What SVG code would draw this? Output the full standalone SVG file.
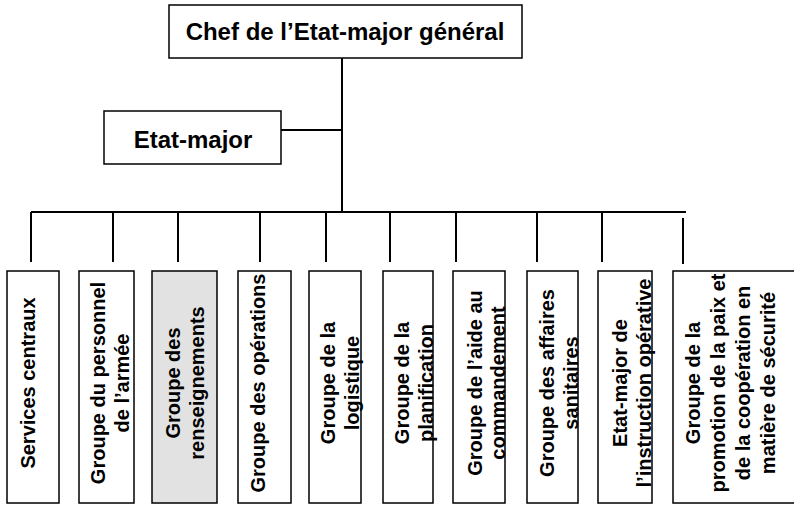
<svg xmlns="http://www.w3.org/2000/svg" width="794" height="505" viewBox="0 0 794 505">
<style>
.box{fill:#fff;stroke:#000;stroke-width:1.5}
.shade{fill:#e2e2e2;stroke:#000;stroke-width:1.5}
.ln{stroke:#000;stroke-width:2;fill:none}
.h{font-family:"Liberation Sans",Arial,sans-serif;font-weight:bold;font-size:24px;text-anchor:middle;fill:#000}
.v{font-family:"Liberation Sans",Arial,sans-serif;font-weight:bold;font-size:20px;text-anchor:middle;fill:#000}
</style>
<rect width="794" height="505" fill="#fff"/>
<g id="connectors">
<path class="ln" d="M342,58 V212 M281,130 H342 M31,212 H686"/>
<path class="ln" d="M31,212 V262 M113,212 V262 M178,212 V262 M260,212 V262 M326,212 V262 M390,212 V262 M456,212 V262 M537,212 V262 M602,212 V262 M683,218 V264"/>
</g>
<g id="chef">
<rect class="box" x="169" y="5" width="353" height="53"/>
<text class="h" x="345" y="40">Chef de l’Etat-major général</text>
</g>
<g id="etat-major">
<rect class="box" x="104" y="111" width="177" height="53"/>
<text class="h" x="193" y="148">Etat-major</text>
</g>
<g id="services-centraux">
<rect class="box" x="7" y="271" width="52" height="232"/>
<text class="v" transform="translate(35,383) rotate(-90)">Services centraux</text>
</g>
<g id="personnel">
<rect class="box" x="79" y="271" width="55" height="232"/>
<text class="v" transform="translate(105,383) rotate(-90)">Groupe du personnel</text>
<text class="v" transform="translate(129,383) rotate(-90)">de l’armée</text>
</g>
<g id="renseignements">
<rect class="shade" x="152" y="271" width="65" height="232"/>
<text class="v" transform="translate(180,383) rotate(-90)">Groupe des</text>
<text class="v" transform="translate(204,383) rotate(-90)">renseignements</text>
</g>
<g id="operations">
<rect class="box" x="238" y="271" width="53" height="232"/>
<text class="v" transform="translate(265,383) rotate(-90)">Groupe des opérations</text>
</g>
<g id="logistique">
<rect class="box" x="309" y="271" width="52" height="232"/>
<text class="v" transform="translate(335,383) rotate(-90)">Groupe de la</text>
<text class="v" transform="translate(359,383) rotate(-90)">logistique</text>
</g>
<g id="planification">
<rect class="box" x="383" y="271" width="50" height="232"/>
<text class="v" transform="translate(409,383) rotate(-90)">Groupe de la</text>
<text class="v" transform="translate(433,383) rotate(-90)">planification</text>
</g>
<g id="aide-commandement">
<rect class="box" x="453" y="271" width="52" height="232"/>
<text class="v" transform="translate(482,383) rotate(-90)">Groupe de l’aide au</text>
<text class="v" transform="translate(505,383) rotate(-90)">commandement</text>
</g>
<g id="affaires-sanitaires">
<rect class="box" x="527" y="271" width="51" height="232"/>
<text class="v" transform="translate(554,383) rotate(-90)">Groupe des affaires</text>
<text class="v" transform="translate(578,383) rotate(-90)">sanitaires</text>
</g>
<g id="instruction-operative">
<rect class="box" x="598" y="271" width="54" height="232"/>
<text class="v" transform="translate(627,383) rotate(-90)">Etat-major de</text>
<text class="v" transform="translate(651,383) rotate(-90)">l’instruction opérative</text>
</g>
<g id="promotion-paix">
<rect class="box" x="673" y="271" width="130" height="232"/>
<text class="v" transform="translate(700,383) rotate(-90)">Groupe de la</text>
<text class="v" transform="translate(725,383) rotate(-90)">promotion de la paix et</text>
<text class="v" transform="translate(750,383) rotate(-90)">de la coopération en</text>
<text class="v" transform="translate(775,383) rotate(-90)">matière de sécurité</text>
</g>
</svg>
